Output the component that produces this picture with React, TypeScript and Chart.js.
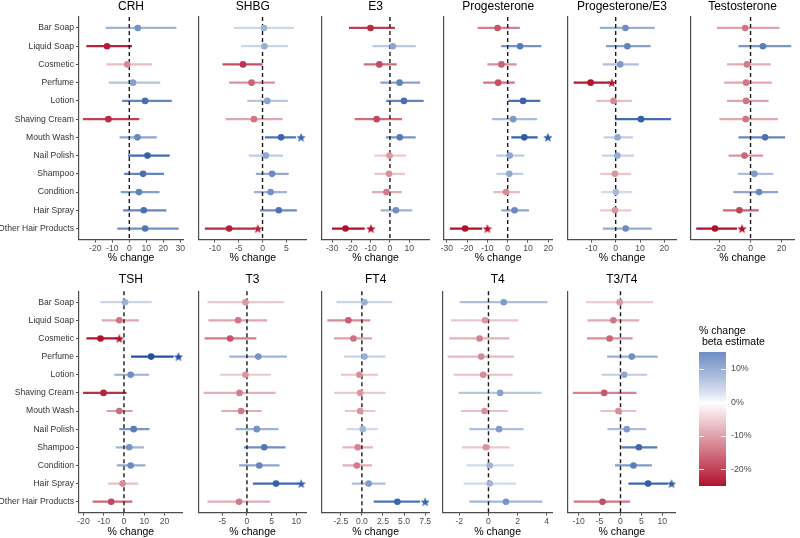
import React, { useEffect, useRef } from "react";
import { Chart, registerables } from "chart.js";

Chart.register(...registerables);

const FONT = "'Liberation Sans', Arial, Helvetica, sans-serif";

const categories = [
  "Bar Soap", "Liquid Soap", "Cosmetic", "Perfume", "Lotion", "Shaving Cream",
  "Mouth Wash", "Nail Polish", "Shampoo", "Condition", "Hair Spray", "Other Hair Products",
];

// ---- CRH ----
const crhEst = [5.0, -13.1, -1.2, 2.2, 9.3, -12.3, 4.8, 10.7, 8.1, 5.7, 8.5, 9.3];
const crhLo = [-13.9, -25.3, -13.5, -12.1, -4.2, -27.3, -5.7, -0.8, -3.0, -5.0, -3.6, -7.1];
const crhHi = [27.7, 1.6, 13.3, 18.2, 25.0, 5.9, 16.2, 23.8, 20.4, 17.8, 21.8, 29.1];
const crhStar = [null, null, null, null, null, null, null, null, null, null, null, null];
const crhTicks = ["-20", "-10", "0", "10", "20", "30"];

// ---- SHBG ----
const shbgEst = [0.3, 0.4, -4.1, -2.3, 1.0, -1.8, 3.9, 0.7, 2.0, 1.7, 3.4, -7.0];
const shbgLo = [-6.0, -4.5, -8.4, -7.0, -3.2, -7.7, 0.5, -2.9, -1.4, -1.8, -0.5, -12.1];
const shbgHi = [6.6, 5.3, 0.0, 2.6, 5.3, 4.2, 7.0, 4.3, 5.5, 5.1, 7.2, -1.6];
const shbgStar = [null, null, null, null, null, null, 8.1, null, null, null, null, -1.0];
const shbgTicks = ["-10", "-5", "0", "5"];

// ---- E3 ----
const e3Est = [-10.1, 1.5, -5.5, 5.0, 7.3, -6.9, 5.1, -0.2, -0.5, -1.8, 3.1, -23.1];
const e3Lo = [-21.3, -9.1, -13.6, -5.0, -2.0, -18.3, -2.1, -8.1, -8.1, -9.3, -4.8, -30.1];
const e3Hi = [2.6, 13.4, 3.5, 15.7, 17.5, 6.3, 13.4, 8.4, 7.8, 6.1, 11.6, -13.1];
const e3Star = [null, null, null, null, null, null, null, null, null, null, null, -9.9];
const e3Ticks = ["-30", "-20", "-10", "0", "10"];

// ---- Progesterone ----
const progEst = [-5.0, 6.1, -3.1, -4.7, 7.6, 2.7, 8.2, 1.0, 0.8, -0.8, 3.4, -21.0];
const progLo = [-14.8, -3.2, -10.0, -12.1, 0.3, -7.7, 1.8, -5.6, -5.5, -7.1, -3.1, -28.5];
const progHi = [6.0, 16.6, 4.4, 3.5, 16.1, 14.5, 14.8, 8.2, 7.7, 6.1, 10.5, -12.6];
const progStar = [null, null, null, null, null, null, 19.8, null, null, null, null, -10.0];
const progTicks = ["-30", "-20", "-10", "0", "10", "20"];

// ---- Progesterone/E3 ----
const pe3Est = [4.0, 4.8, 1.9, -10.3, -0.9, 10.4, 0.8, 0.7, -0.3, 0.1, -0.3, 4.1];
const pe3Lo = [-6.5, -4.0, -5.3, -17.3, -7.9, -0.3, -4.9, -5.6, -6.3, -5.9, -6.5, -5.3];
const pe3Hi = [16.0, 14.4, 9.5, -2.6, 6.7, 22.7, 7.1, 7.5, 6.4, 6.8, 6.4, 14.8];
const pe3Star = [null, null, null, -1.6, null, null, null, null, null, null, null, null];
const pe3Ticks = ["-10", "0", "10", "20"];

// ---- Testosterone ----
const testoEst = [-3.5, 8.0, -2.3, -2.9, -2.9, -3.1, 9.4, -3.9, 2.5, 5.5, -7.2, -23.0];
const testoLo = [-21.9, -7.8, -15.2, -17.0, -15.2, -20.1, -7.8, -14.2, -8.2, -11.1, -17.8, -35.1];
const testoHi = [18.7, 26.3, 13.1, 13.7, 11.7, 17.6, 22.4, 8.0, 14.8, 17.8, 5.3, -8.8];
const testoStar = [null, null, null, null, null, null, null, null, null, null, null, -5.5];
const testoTicks = ["-20", "0", "20"];

// ---- TSH ----
const tshEst = [0.5, -2.3, -11.6, 13.4, 3.3, -10.1, -2.3, 4.8, 2.6, 3.3, -0.7, -6.3];
const tshLo = [-11.6, -10.9, -18.5, 3.5, -4.8, -20.2, -8.6, -2.3, -4.1, -3.5, -7.8, -15.5];
const tshHi = [13.7, 7.4, -3.3, 24.5, 12.4, 1.3, 4.3, 12.6, 9.9, 10.6, 7.1, 4.1];
const tshStar = [null, null, -2.3, 26.9, null, null, null, null, null, null, null, null];
const tshTicks = ["-20", "-10", "0", "10", "20"];

// ---- T3 ----
const t3Est = [-0.3, -1.8, -3.4, 2.3, -0.3, -1.5, -1.2, 2.0, 3.5, 2.5, 5.9, -1.6];
const t3Lo = [-8.0, -7.8, -8.6, -3.6, -5.5, -8.8, -5.2, -2.3, -0.6, -1.6, 1.2, -8.0];
const t3Hi = [7.5, 4.1, 1.9, 8.1, 4.9, 5.8, 3.0, 6.4, 7.8, 6.6, 10.5, 4.7];
const t3Star = [null, null, null, null, null, null, null, null, null, null, 11.0, null];
const t3Ticks = ["-5", "0", "5", "10"];

// ---- FT4 ----
const ft4Est = [0.3, -1.6, -1.0, 0.3, -0.3, -0.2, -0.2, 0.1, -0.5, -0.6, 0.8, 4.2];
const ft4Lo = [-3.0, -4.1, -3.3, -2.1, -2.5, -3.3, -2.0, -1.8, -2.3, -2.3, -1.2, 1.4];
const ft4Hi = [3.6, 1.0, 1.2, 2.8, 1.9, 2.8, 1.6, 1.9, 1.3, 1.2, 2.8, 6.9];
const ft4Star = [null, null, null, null, null, null, null, null, null, null, null, 7.5];
const ft4Ticks = ["-2.5", "0.0", "2.5", "5.0", "7.5"];

// ---- T4 ----
const t4Est = [1.05, -0.23, -0.61, -0.5, -0.36, 0.8, -0.27, 0.73, -0.18, 0.09, 0.09, 1.2];
const t4Lo = [-1.98, -2.57, -2.68, -2.8, -2.39, -2.05, -1.9, -1.32, -1.82, -1.52, -1.7, -1.32];
const t4Hi = [4.05, 2.05, 1.43, 1.75, 1.66, 3.64, 1.32, 2.41, 1.45, 1.75, 1.89, 3.7];
const t4Star = [null, null, null, null, null, null, null, null, null, null, null, null];
const t4Ticks = ["-2", "0", "2", "4"];

// ---- T3/T4 ----
const t3t4Est = [-0.2, -1.7, -2.6, 2.7, 0.9, -3.9, -0.5, 1.5, 4.4, 3.1, 6.6, -4.3];
const t3t4Lo = [-8.2, -7.9, -8.0, -3.2, -4.5, -11.4, -4.8, -3.1, 0.2, -1.3, 1.9, -11.2];
const t3t4Hi = [7.8, 4.5, 2.9, 8.9, 6.4, 3.8, 3.8, 6.1, 8.8, 7.5, 11.3, 2.3];
const t3t4Star = [null, null, null, null, null, null, null, null, null, null, 12.2, null];
const t3t4Ticks = ["-10", "-5", "0", "5", "10"];

const legendTicks = ["10%", "0%", "-10%", "-20%"];
const legendValues = [10, 0, -10, -20];

const panels = [
  { title: "CRH", est: crhEst, lo: crhLo, hi: crhHi, star: crhStar, ticks: crhTicks },
  { title: "SHBG", est: shbgEst, lo: shbgLo, hi: shbgHi, star: shbgStar, ticks: shbgTicks },
  { title: "E3", est: e3Est, lo: e3Lo, hi: e3Hi, star: e3Star, ticks: e3Ticks },
  { title: "Progesterone", est: progEst, lo: progLo, hi: progHi, star: progStar, ticks: progTicks },
  { title: "Progesterone/E3", est: pe3Est, lo: pe3Lo, hi: pe3Hi, star: pe3Star, ticks: pe3Ticks },
  { title: "Testosterone", est: testoEst, lo: testoLo, hi: testoHi, star: testoStar, ticks: testoTicks },
  { title: "TSH", est: tshEst, lo: tshLo, hi: tshHi, star: tshStar, ticks: tshTicks },
  { title: "T3", est: t3Est, lo: t3Lo, hi: t3Hi, star: t3Star, ticks: t3Ticks },
  { title: "FT4", est: ft4Est, lo: ft4Lo, hi: ft4Hi, star: ft4Star, ticks: ft4Ticks },
  { title: "T4", est: t4Est, lo: t4Lo, hi: t4Hi, star: t4Star, ticks: t4Ticks },
  { title: "T3/T4", est: t3t4Est, lo: t3t4Lo, hi: t3t4Hi, star: t3t4Star, ticks: t3t4Ticks },
];

// layout (pixel frames and axis ranges)
const frames = [
  { left: 79, right: 183, min: -29.6, max: 31.6, row: 0 },
  { left: 196, right: 306.7, min: -13.33, max: 9.27, row: 0 },
  { left: 319.5, right: 429, min: -35.3, max: 20.3, row: 0 },
  { left: 441.7, right: 552.3, min: -31.4, max: 22.0, row: 0 },
  { left: 565, right: 676, min: -19.6, max: 24.8, row: 0 },
  { left: 688.7, right: 797, min: -38.5, max: 28.1, row: 0 },
  { left: 79, right: 182.7, min: -22.2, max: 29.0, row: 1 },
  { left: 196, right: 306, min: -9.72, max: 11.97, row: 1 },
  { left: 319, right: 429.3, min: -4.73, max: 7.99, row: 1 },
  { left: 442.7, right: 552.3, min: -3.12, max: 4.38, row: 1 },
  { left: 565.7, right: 675.7, min: -12.55, max: 13.2, row: 1 },
];
const rowsLayout = [
  { top: 17, bottom: 239.5, canvasTop: 0, titlePadBottom: 3.2, titleOffset: 10.5 },
  { top: 291.3, bottom: 512.6, canvasTop: 270, titlePadBottom: 0, titleOffset: 12 },
];
const CANVAS_H = 268;

const BLUE = [34, 81, 163];
const RED = [176, 16, 43];
function mixWhite(c: number[], t: number) {
  const r = Math.round(255 + (c[0] - 255) * t);
  const g = Math.round(255 + (c[1] - 255) * t);
  const b = Math.round(255 + (c[2] - 255) * t);
  return `rgb(${r},${g},${b})`;
}
function strength(est: number, lo: number, hi: number) {
  const se = (hi - lo) / 3.92;
  const z = Math.abs(est / se);
  const s = 0.55 * Math.min(z / 2.2, 1) + 0.45 * Math.min(Math.sqrt(Math.abs(est) / 12), 1);
  return 0.38 + 0.62 * Math.min(s, 1);
}
function pointColor(est: number, lo: number, hi: number) {
  return mixWhite(est < 0 ? RED : BLUE, strength(est, lo, hi));
}
function lineColor(est: number, lo: number, hi: number) {
  return mixWhite(est < 0 ? RED : BLUE, Math.pow(strength(est, lo, hi), 1.8));
}
function legendColor(v: number) {
  return v >= 0 ? mixWhite(BLUE, Math.pow(v / 25, 0.85)) : mixWhite(RED, -v / 25);
}

function starImage(color: string) {
  const size = 12;
  const c = document.createElement("canvas");
  c.width = size;
  c.height = size;
  const ctx = c.getContext("2d")!;
  ctx.fillStyle = color;
  ctx.beginPath();
  const cx = size / 2;
  const cy = size / 2 + 0.5;
  for (let k = 0; k < 10; k++) {
    const a = -Math.PI / 2 + (k * Math.PI) / 5;
    const rad = k % 2 === 0 ? 5.0 : 2.1;
    const x = cx + rad * Math.cos(a);
    const y = cy + rad * Math.sin(a);
    if (k === 0) ctx.moveTo(x, y);
    else ctx.lineTo(x, y);
  }
  ctx.closePath();
  ctx.fill();
  return c;
}

const decoPlugin = {
  id: "panelDeco",
  beforeDatasetDraw(chart: any, args: any) {
    if (args.index !== 1) return;
    const { ctx, chartArea } = chart;
    const x = chart.scales.x.getPixelForValue(0);
    ctx.save();
    ctx.strokeStyle = "#1a1a1a";
    ctx.lineWidth = 1.4;
    ctx.setLineDash([4, 3]);
    ctx.beginPath();
    ctx.moveTo(x, chartArea.top);
    ctx.lineTo(x, chartArea.bottom);
    ctx.stroke();
    ctx.restore();
  },
  afterDraw(chart: any) {
    const o = chart.options.plugins.panelDeco;
    const { ctx, chartArea } = chart;
    ctx.save();
    ctx.fillStyle = "#000";
    ctx.font = `12px ${FONT}`;
    ctx.textAlign = "center";
    ctx.textBaseline = "middle";
    ctx.fillText(o.title, (chartArea.left + chartArea.right) / 2, chartArea.top - o.offset);
    ctx.restore();
  },
};

function Panel({ idx }: { idx: number }) {
  const ref = useRef<HTMLCanvasElement | null>(null);
  const p = panels[idx];
  const f = frames[idx];
  const rl = rowsLayout[f.row];
  const first = idx === 0 || idx === 6;
  const cl = first ? 0 : Math.floor(f.left - 3);
  const yw = f.left - cl;
  const plotW = f.right - f.left;
  const w = Math.min(Math.ceil(yw + plotW + 10), 800 - cl);
  const padRight = w - yw - plotW;
  const padTop = rl.top - rl.canvasTop;
  const xh = rl.canvasTop + CANVAS_H - rl.bottom;

  useEffect(() => {
    const tickVals = p.ticks.map((s) => parseFloat(s));
    const lineSets = p.est.map((e, i) => ({
      type: "line",
      data: [
        { x: p.lo[i], y: i },
        { x: p.hi[i], y: i },
      ],
      showLine: true,
      borderColor: lineColor(e, p.lo[i], p.hi[i]),
      borderWidth: 2.2,
      pointRadius: 0,
      fill: false,
    }));
    const starIdx = p.star.map((s, i) => (s === null ? -1 : i)).filter((i) => i >= 0);
    const starSet = {
      type: "scatter",
      data: starIdx.map((i) => ({ x: p.star[i] as number, y: i })),
      pointStyle: starIdx.map((i) => starImage(pointColor(p.est[i], p.lo[i], p.hi[i]))),
      pointRadius: 5,
    };
    const pointSet = {
      type: "scatter",
      data: p.est.map((e, i) => ({ x: e, y: i })),
      pointBackgroundColor: p.est.map((e, i) => pointColor(e, p.lo[i], p.hi[i])),
      pointBorderColor: p.est.map((e, i) => pointColor(e, p.lo[i], p.hi[i])),
      pointBorderWidth: 0,
      pointRadius: 3.3,
    };
    const chart = new Chart(ref.current as HTMLCanvasElement, {
      type: "scatter",
      data: { datasets: [pointSet, starSet, ...lineSets] as any },
      plugins: [decoPlugin as any],
      options: {
        responsive: false,
        animation: false,
        events: [],
        layout: { padding: { top: padTop, right: padRight, left: 0, bottom: 0 } },
        plugins: {
          legend: { display: false },
          tooltip: { enabled: false },
          panelDeco: { title: p.title, offset: rl.titleOffset },
        } as any,
        scales: {
          x: {
            type: "linear",
            min: f.min,
            max: f.max,
            afterBuildTicks: (s: any) => {
              s.ticks = tickVals.map((v) => ({ value: v }));
            },
            afterFit: (s: any) => {
              s.height = xh;
              s.paddingLeft = 0;
              s.paddingRight = 0;
            },
            ticks: {
              callback: (_v: any, i: number) => p.ticks[i],
              font: { family: FONT, size: 8.6 },
              color: "#4d4d4d",
              padding: 1,
              maxRotation: 0,
              autoSkip: false,
            },
            grid: { drawOnChartArea: false, drawTicks: true, tickLength: 3, color: "#4d4d4d", lineWidth: 1 },
            border: { display: true, color: "#4d4d4d", width: 1.2 },
            title: {
              display: true,
              text: "% change",
              color: "#000",
              font: { family: FONT, size: 10.5 },
              padding: { top: 0, bottom: rl.titlePadBottom },
            },
          },
          y: {
            type: "linear",
            min: -0.6,
            max: 11.6,
            reverse: true,
            afterBuildTicks: (s: any) => {
              s.ticks = categories.map((_c, i) => ({ value: i }));
            },
            afterFit: (s: any) => {
              s.width = yw;
              s.paddingTop = 0;
              s.paddingBottom = 0;
            },
            ticks: {
              display: first,
              callback: (v: any) => categories[Math.round(Number(v))],
              font: { family: FONT, size: 8.6 },
              color: "#333",
              padding: 2,
              autoSkip: false,
            },
            grid: { drawOnChartArea: false, drawTicks: first, tickLength: 3, color: "#4d4d4d", lineWidth: 1 },
            border: { display: true, color: "#4d4d4d", width: 1.2 },
          },
        },
      } as any,
    });
    return () => chart.destroy();
  }, []);

  return (
    <canvas
      ref={ref}
      width={w}
      height={CANVAS_H}
      style={{ position: "absolute", left: cl, top: rl.canvasTop, width: w, height: CANVAS_H }}
    />
  );
}

function Legend() {
  const top = 352;
  const height = 134;
  const vTop = 15.2;
  const vBot = -24.8;
  const stops: string[] = [];
  for (let v = 15; v >= -25; v -= 2.5) {
    const pct = ((vTop - v) / (vTop - vBot)) * 100;
    stops.push(`${legendColor(v)} ${pct.toFixed(2)}%`);
  }
  const yOf = (v: number) => ((vTop - v) / (vTop - vBot)) * height;
  return (
    <>
      <div
        style={{
          position: "absolute",
          left: 699,
          top: 325,
          font: `10.5px ${FONT}`,
          lineHeight: "11px",
          color: "#000",
          whiteSpace: "pre",
        }}
      >
        {"% change\n beta estimate"}
      </div>
      <div
        style={{
          position: "absolute",
          left: 699,
          top,
          width: 27,
          height,
          background: `linear-gradient(to bottom, ${stops.join(", ")})`,
        }}
      >
        {legendValues.map((v, i) => (
          <React.Fragment key={i}>
            <div style={{ position: "absolute", left: 0, top: yOf(v) - 0.5, width: 5, height: 1, background: "rgba(255,255,255,0.85)" }} />
            <div style={{ position: "absolute", right: 0, top: yOf(v) - 0.5, width: 5, height: 1, background: "rgba(255,255,255,0.85)" }} />
          </React.Fragment>
        ))}
      </div>
      {legendTicks.map((t, i) => (
        <div
          key={t}
          style={{
            position: "absolute",
            left: 731,
            top: top + yOf(legendValues[i]) - 6,
            height: 12,
            lineHeight: "12px",
            font: `8.8px ${FONT}`,
            color: "#4d4d4d",
          }}
        >
          {t}
        </div>
      ))}
    </>
  );
}

export default function App() {
  return (
    <div style={{ position: "absolute", left: 0, top: 0, width: 800, height: 538, background: "#fff", overflow: "hidden" }}>
      {panels.map((_p, i) => (
        <Panel key={i} idx={i} />
      ))}
      <Legend />
    </div>
  );
}
